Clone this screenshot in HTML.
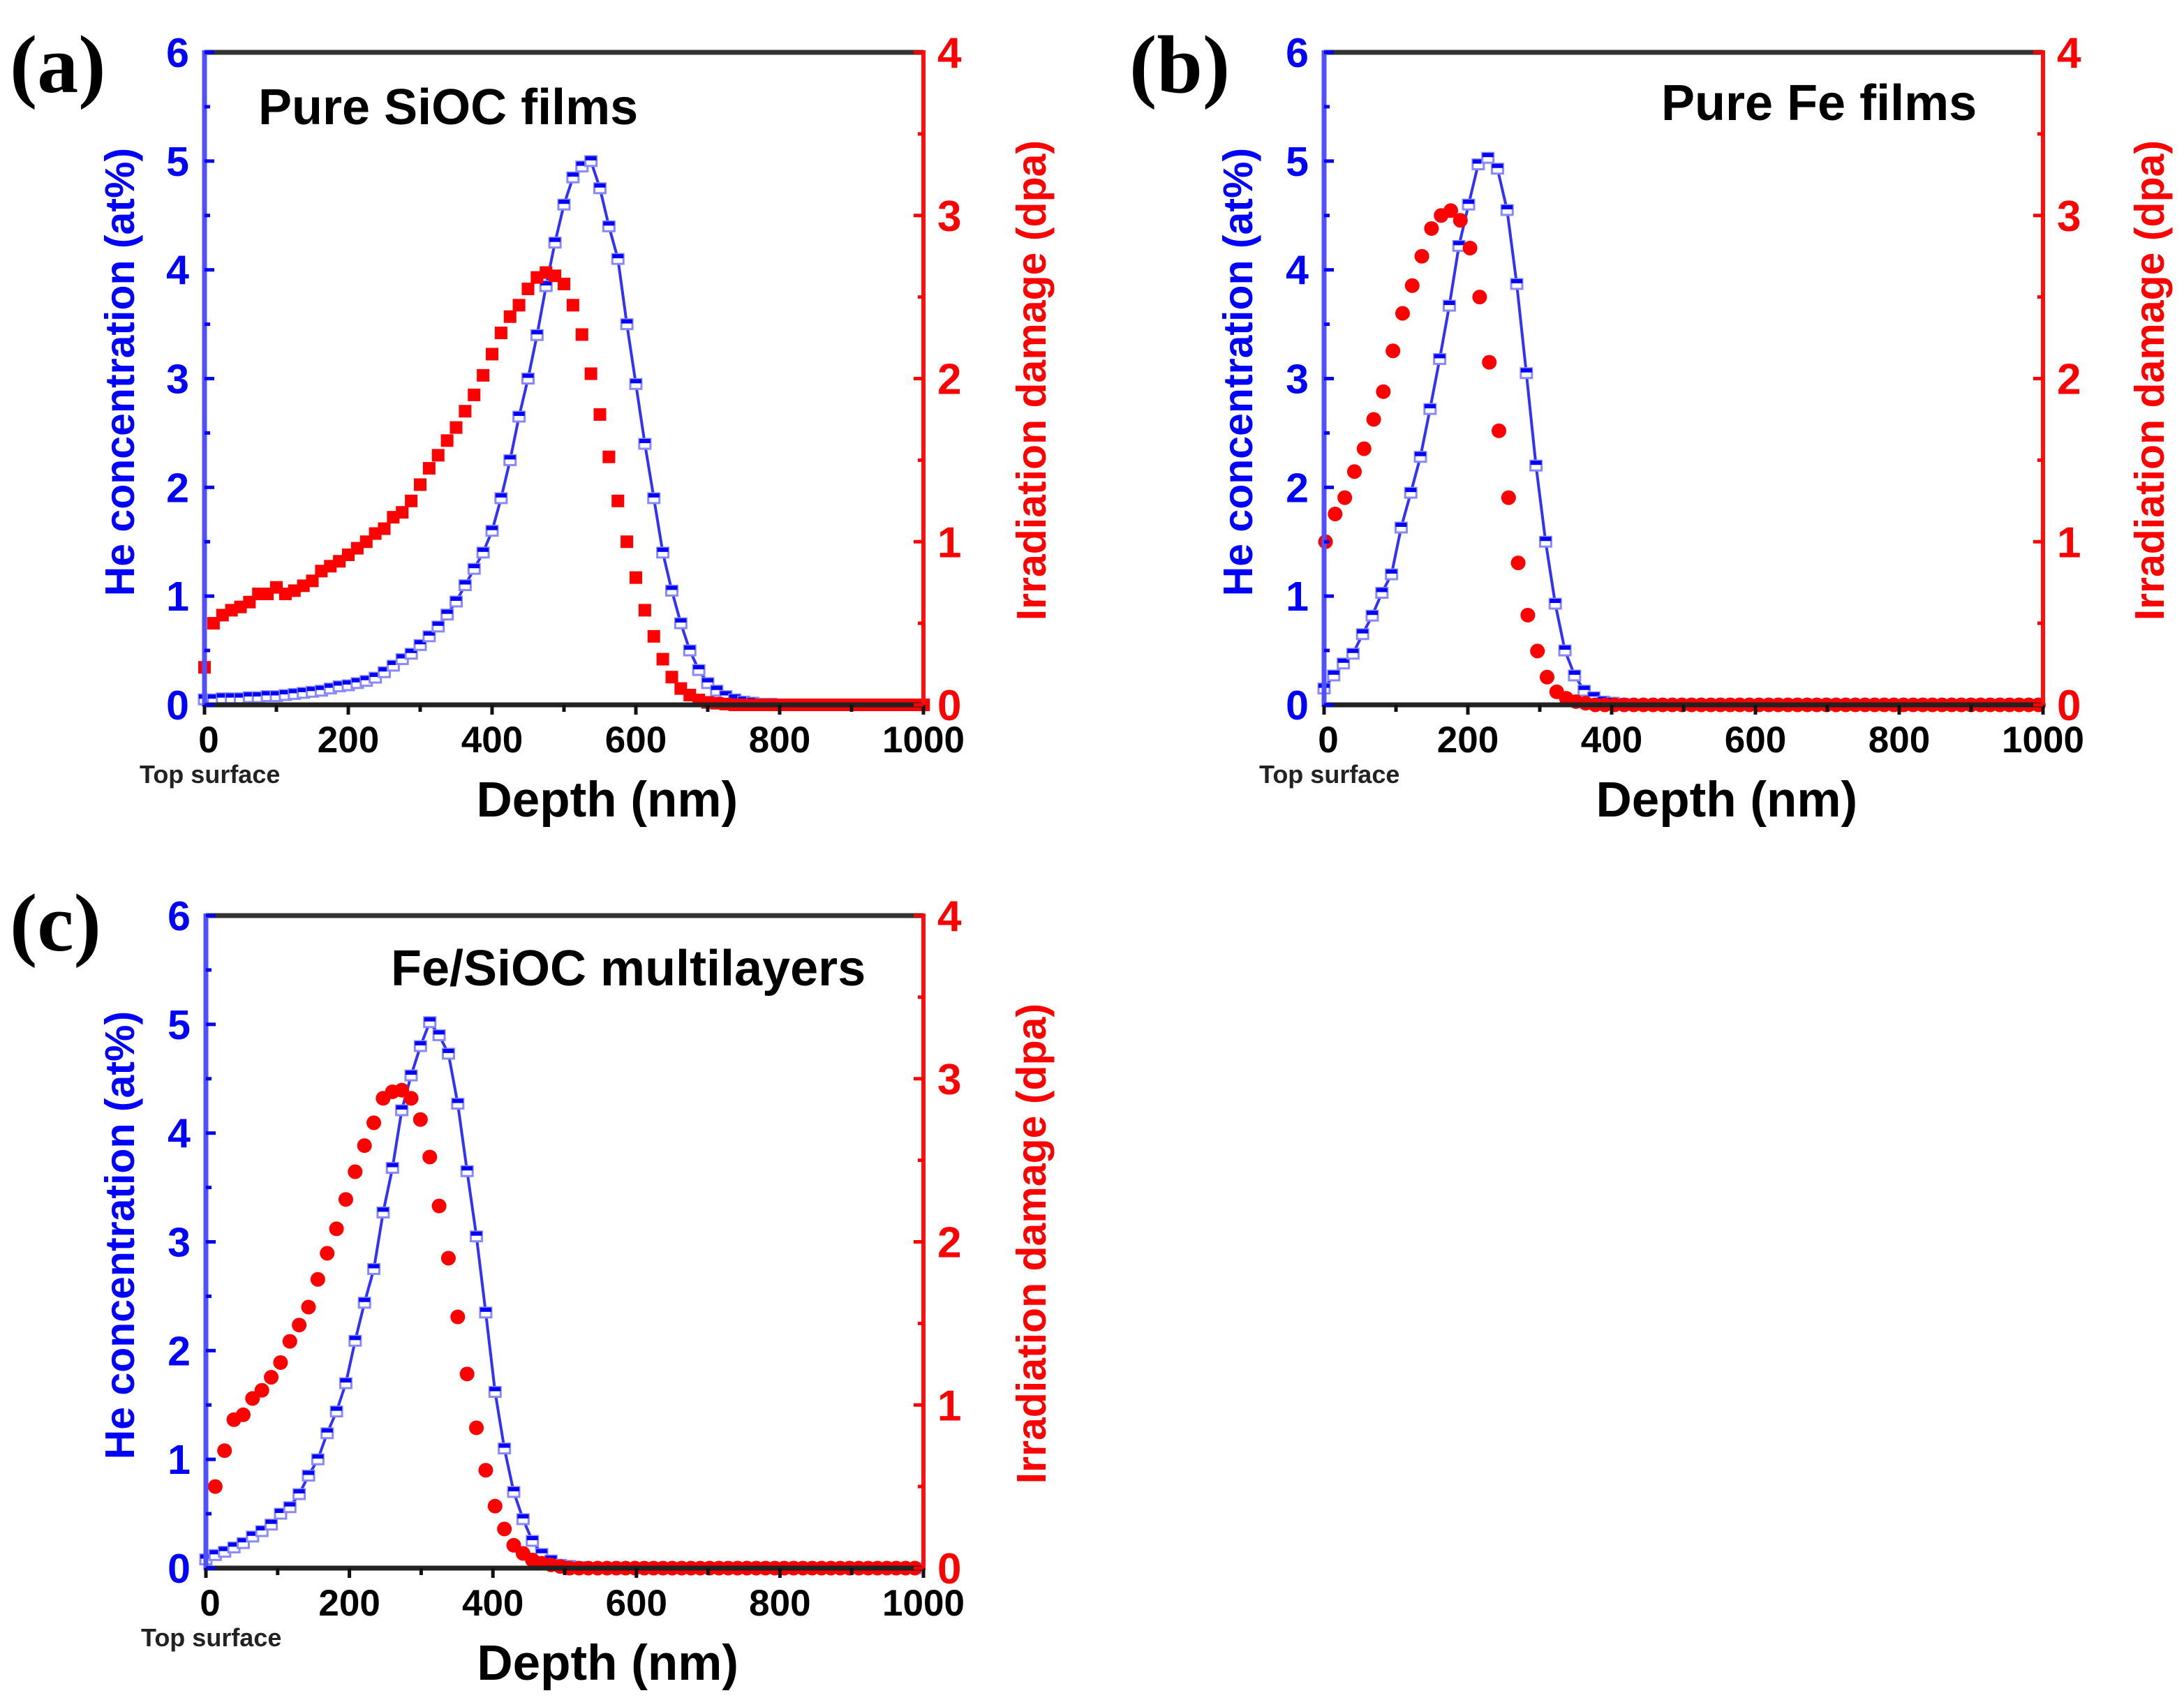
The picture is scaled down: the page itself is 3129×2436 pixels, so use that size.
<!DOCTYPE html>
<html><head><meta charset="utf-8">
<style>
html,body{margin:0;padding:0;background:#fff;}
svg{display:block;}
text{font-family:"Liberation Sans",Arial,sans-serif;font-weight:bold;}
</style></head>
<body>
<svg id="fig" xmlns="http://www.w3.org/2000/svg" width="3129" height="2436" viewBox="0 0 3129 2436">
<rect width="3129" height="2436" fill="#fff"/>
</svg>
<script>
// ---- data ----
const xTicks = [0, 200, 400, 600, 800, 1000];
const heTicks = [0, 1, 2, 3, 4, 5, 6];
const dpaTicks = [0, 1, 2, 3, 4];

// Panel (a) Pure SiOC, grid step 12.5 nm
const aStep = 12.5;
const aHe = [0.05,0.05,0.06,0.06,0.06,0.07,0.07,0.08,0.08,0.09,0.1,0.11,0.12,0.13,0.15,0.17,0.18,0.2,0.22,0.25,0.3,0.36,0.42,0.47,0.55,0.63,0.72,0.83,0.95,1.1,1.25,1.4,1.6,1.9,2.25,2.65,3.0,3.4,3.85,4.25,4.6,4.85,4.95,5.0,4.75,4.4,4.1,3.5,2.95,2.4,1.9,1.4,1.05,0.75,0.5,0.32,0.2,0.13,0.08,0.05,0.03,0.02,0.01,0.01,0,0,0,0,0,0,0,0,0,0,0,0,0,0,0,0,0];
const aDpa = [0.23,0.5,0.55,0.58,0.6,0.63,0.68,0.68,0.72,0.68,0.7,0.73,0.76,0.82,0.85,0.88,0.92,0.96,1.0,1.05,1.08,1.15,1.18,1.25,1.35,1.45,1.53,1.62,1.7,1.8,1.9,2.02,2.15,2.28,2.38,2.45,2.55,2.62,2.65,2.63,2.58,2.45,2.27,2.03,1.78,1.52,1.25,1.0,0.78,0.58,0.42,0.28,0.17,0.1,0.06,0.03,0.015,0.01,0.005,0,0,0,0,0,0,0,0,0,0,0,0,0,0,0,0,0,0,0,0,0,0];

// Panel (b) Pure Fe, grid step 13.4 nm
const bStep = 13.4;
const bHe = [0.15,0.27,0.38,0.47,0.65,0.82,1.03,1.2,1.63,1.95,2.28,2.72,3.18,3.67,4.22,4.6,4.97,5.03,4.93,4.55,3.87,3.05,2.2,1.5,0.93,0.5,0.27,0.13,0.07,0.03,0.02,0.01,0,0,0,0,0,0,0,0,0,0,0,0,0,0,0,0,0,0,0,0,0,0,0,0,0,0,0,0,0,0,0,0,0,0,0,0,0,0,0,0,0,0,0];
const bDpa = [1.0,1.17,1.27,1.43,1.57,1.75,1.92,2.17,2.4,2.57,2.75,2.92,3.0,3.03,2.97,2.8,2.5,2.1,1.68,1.27,0.87,0.55,0.33,0.17,0.08,0.04,0.02,0.01,0,0,0,0,0,0,0,0,0,0,0,0,0,0,0,0,0,0,0,0,0,0,0,0,0,0,0,0,0,0,0,0,0,0,0,0,0,0,0,0,0,0,0,0,0,0,0];

// Panel (c) Fe/SiOC multilayers, grid step 13 nm
const cStep = 13;
const cHe = [0.08,0.12,0.15,0.19,0.23,0.29,0.34,0.4,0.5,0.56,0.68,0.85,1.0,1.24,1.44,1.7,2.09,2.44,2.75,3.27,3.68,4.21,4.53,4.8,5.02,4.9,4.73,4.27,3.65,3.05,2.35,1.62,1.1,0.7,0.45,0.25,0.13,0.07,0.03,0.02,0.01,0,0,0,0,0,0,0,0,0,0,0,0,0,0,0,0,0,0,0,0,0,0,0,0,0,0,0,0,0,0,0,0,0,0,0,0];
const cDpa = [0.5,0.72,0.91,0.94,1.04,1.09,1.17,1.26,1.39,1.49,1.6,1.77,1.93,2.08,2.26,2.43,2.59,2.73,2.88,2.92,2.93,2.88,2.75,2.52,2.22,1.9,1.54,1.19,0.86,0.6,0.38,0.24,0.14,0.09,0.05,0.03,0.02,0.01,0,0,0,0,0,0,0,0,0,0,0,0,0,0,0,0,0,0,0,0,0,0,0,0,0,0,0,0,0,0,0,0,0,0,0,0,0,0];

const NS = "http://www.w3.org/2000/svg";
const svg = document.getElementById('fig');
function mk(tag, attrs, parent){
  const e = document.createElementNS(NS, tag);
  for (const k in attrs) e.setAttribute(k, attrs[k]);
  (parent||svg).appendChild(e);
  return e;
}

const panels = [
  {id:'a', L:293, T:75, W:1030, H:935, title:'Pure SiOC films', tx:370, ty:178, lbl:'(a)', lx:14, ly:132,
   he:aHe, dpa:aDpa, heStep:aStep, dpaStep:aStep, dpaStart:0, dpaShape:'square', ltx:172, rtx:1478},
  {id:'b', L:1897, T:75, W:1030, H:935, title:'Pure Fe films', tx:2380, ty:172, lbl:'(b)', lx:1618, ly:132,
   he:bHe, dpa:bDpa, heStep:bStep, dpaStep:bStep, dpaStart:2, dpaShape:'circle', ltx:1774, rtx:3080},
  {id:'c', L:295, T:1312, W:1028, H:935, title:'Fe/SiOC multilayers', tx:560, ty:1412, lbl:'(c)', lx:14, ly:1362,
   he:cHe, dpa:cDpa, heStep:cStep, dpaStep:cStep, dpaStart:13, dpaShape:'circle', ltx:172, rtx:1478}
];

panels.forEach(p => {
  const g = mk('g', {});
  
  
  const X = v => p.L + v / 1000 * p.W;
  const YL = v => p.T + p.H - v / 6 * p.H;
  const YR = v => p.T + p.H - v / 4 * p.H;
  const B = p.T + p.H, R = p.L + p.W;

  const lb = mk('text', {x:p.lx, y:p.ly, 'font-size':118, fill:'#000', style:'font-family:"Liberation Serif",serif;font-weight:bold'}, g);
  lb.textContent = p.lbl;
  
  

  const tt = mk('text', {x:p.tx, y:p.ty, 'font-size':72, fill:'#000'}, g);
  tt.textContent = p.title;
  
  

  // He line
  const pts = p.he.map((v,i) => X(i*p.heStep).toFixed(1) + ',' + YL(v).toFixed(1)).join(' ');
  const line = mk('polyline', {points:pts, fill:'none', stroke:'#3030ff', 'stroke-width':4}, g);
  
  

  // He markers
  const hg = mk('g', {}, g);
  
  
  p.he.forEach((v,i) => {
    const cx = X(i*p.heStep), cy = YL(v);
    const m = mk('rect', {x:cx-8, y:cy-7, width:16, height:14, fill:'#fff', stroke:'#8888ff', 'stroke-width':3}, hg);
    
    
    mk('rect', {x:cx-8, y:cy-7, width:16, height:6, fill:'#0000ff'}, hg);
  });

  // dpa markers (on top)
  const dg = mk('g', {}, g);
  
  
  p.dpa.forEach((v,i) => {
    const cx = X(p.dpaStart + i*p.dpaStep), cy = YR(v);
    let m;
    if (p.dpaShape === 'square') m = mk('rect', {x:cx-9, y:cy-9, width:18, height:18, fill:'#ff0000'}, dg);
    else m = mk('circle', {cx:cx, cy:cy, r:10.5, fill:'#ff0000'}, dg);
    
    
  });

  // axes
  const top = mk('line', {x1:p.L, y1:p.T, x2:R, y2:p.T, stroke:'#333', 'stroke-width':7}, g);
  
  
  const bot = mk('line', {x1:p.L, y1:B, x2:R, y2:B, stroke:'#222', 'stroke-width':7}, g);
  
  
  const la = mk('line', {x1:p.L, y1:p.T-3, x2:p.L, y2:B+3, stroke:'#5050ff', 'stroke-width':7}, g);
  
  
  const ra = mk('line', {x1:R, y1:p.T-3, x2:R, y2:B+3, stroke:'#ff1010', 'stroke-width':6}, g);
  
  

  for (let v = 0; v <= 1000; v += 100) {
    const major = v % 200 === 0;
    mk('line', {x1:X(v), y1:B, x2:X(v), y2:B + (major?14:10), stroke:'#111', 'stroke-width':5}, g);
  }
  xTicks.forEach(v => {
    const t = mk('text', {x:X(v)+(v===0?6:0), y:B+68, 'font-size':53, fill:'#000', 'text-anchor':'middle'}, g);
    t.textContent = v;
    
    
  });
  const ts = mk('text', {x:p.L-93, y:B+112, 'font-size':36, fill:'#222'}, g);
  ts.textContent = 'Top surface';
  
  
  const xt = mk('text', {x:p.L + 0.56*p.W, y:B+160, 'font-size':71, fill:'#000', 'text-anchor':'middle'}, g);
  xt.textContent = 'Depth (nm)';
  
  

  for (let v = 0; v <= 6; v += 0.5) {
    const major = Number.isInteger(v);
    mk('line', {x1:p.L, y1:YL(v), x2:p.L + (major?14:8), y2:YL(v), stroke:'#0000ff', 'stroke-width':5}, g);
  }
  heTicks.forEach(v => {
    const t = mk('text', {x:p.L-22, y:YL(v)+21, 'font-size':59, fill:'#0000ff', 'text-anchor':'end'}, g);
    t.textContent = v;
    
    
  });
  for (let v = 0; v <= 4; v += 0.5) {
    const major = Number.isInteger(v);
    mk('line', {x1:R, y1:YR(v), x2:R - (major?14:8), y2:YR(v), stroke:'#ff0000', 'stroke-width':5}, g);
  }
  dpaTicks.forEach(v => {
    const t = mk('text', {x:R+20, y:YR(v)+22, 'font-size':62, fill:'#ff0000'}, g);
    t.textContent = v;
    
    
  });

  const cy = p.T + 0.49*p.H;
  const lt = mk('text', {x:0, y:0, 'font-size':59, fill:'#0000ff', 'text-anchor':'middle', 'dominant-baseline':'central',
    transform:`translate(${p.ltx},${cy}) rotate(-90)`}, g);
  lt.textContent = 'He concentration (at%)';
  
  
  const rt = mk('text', {x:0, y:0, 'font-size':59, fill:'#ff0000', 'text-anchor':'middle', 'dominant-baseline':'central',
    transform:`translate(${p.rtx},${cy+12}) rotate(-90)`}, g);
  rt.textContent = 'Irradiation damage (dpa)';
  
  
});
</script>
</body></html>
